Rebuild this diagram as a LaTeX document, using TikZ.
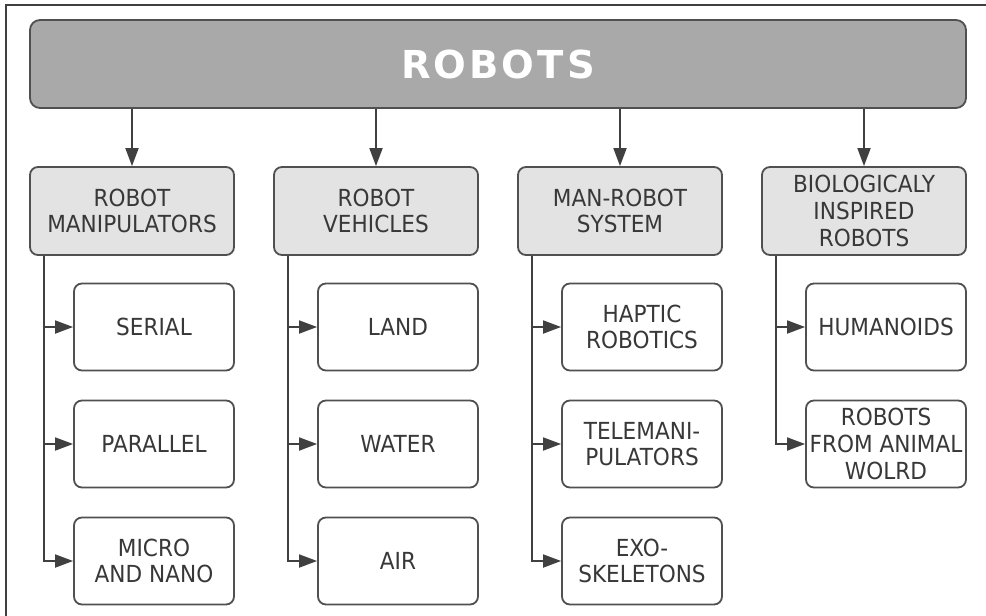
\documentclass[tikz,border=0pt]{standalone}
\usepackage{fontspec}
\setmainfont{DejaVu Sans}[FakeStretch=0.92]
\newfontfamily\titlefont{DejaVu Sans}[LetterSpace=8]
\usetikzlibrary{arrows.meta}
\definecolor{bannerfill}{HTML}{A9A9A9}
\definecolor{catfill}{HTML}{E3E3E3}
\definecolor{edgecol}{HTML}{505050}
\definecolor{linecol}{HTML}{404040}
\definecolor{textcol}{HTML}{383838}
\tikzset{
  banner/.style={draw=edgecol, line width=1.8pt, fill=bannerfill, rounded corners=10pt,
    minimum width=936pt, minimum height=88pt, inner sep=0pt, text=white,
    font=\titlefont\bfseries\fontsize{38.5}{40}\selectfont},
  catbox/.style={draw=edgecol, line width=1.8pt, fill=catfill, rounded corners=8pt,
    minimum width=204pt, minimum height=88pt, inner sep=0pt, align=center, text=textcol,
    font=\fontsize{23.5}{26.7}\selectfont},
  leafbox/.style={draw=edgecol, line width=1.8pt, fill=white, rounded corners=8pt,
    minimum width=160pt, minimum height=87pt, inner sep=0pt, align=center, text=textcol,
    font=\fontsize{23.5}{26.7}\selectfont},
  conn/.style={draw=linecol, line width=1.8pt, -{Triangle[length=18pt,width=13pt]}},
  frame/.style={draw=linecol, line width=1.2pt}
}
\begin{document}
\begin{tikzpicture}[x=1pt,y=-1pt]
\useasboundingbox (0,0) rectangle (986,616);
\draw[frame] (986,5) -- (6,5) -- (6,616);

\node[banner] (top) at (498,64) {ROBOTS};

\node[catbox] (c1) at (132,211) {ROBOT\\MANIPULATORS};
\node[catbox] (c2) at (376,211) {ROBOT\\VEHICLES};
\node[catbox] (c3) at (620,211) {MAN-ROBOT\\SYSTEM};
\node[catbox] (c4) at (864,211) {BIOLOGICALY\\INSPIRED\\ROBOTS};

\foreach \c in {c1,c2,c3,c4}{
  \draw[conn] (\c.north |- top.south) -- (\c.north);
}

\node[leafbox] (a1) at (154,327) {SERIAL};
\node[leafbox] (a2) at (154,444) {PARALLEL};
\node[leafbox] (a3) at (154,561) {MICRO\\AND NANO};

\node[leafbox] (b1) at (398,327) {LAND};
\node[leafbox] (b2) at (398,444) {WATER};
\node[leafbox] (b3) at (398,561) {AIR};

\node[leafbox] (d1) at (642,327) {HAPTIC\\ROBOTICS};
\node[leafbox] (d2) at (642,444) {TELEMANI-\\PULATORS};
\node[leafbox] (d3) at (642,561) {EXO-\\SKELETONS};

\node[leafbox] (e1) at (886,327) {HUMANOIDS};
\node[leafbox] (e2) at (886,444) {ROBOTS\\FROM ANIMAL\\WOLRD};

\foreach \p/\k in {c1/a1,c1/a2,c1/a3,c2/b1,c2/b2,c2/b3,c3/d1,c3/d2,c3/d3,c4/e1,c4/e2}{
  \draw[conn] ([xshift=15pt]\p.south west) |- (\k.west);
}
\end{tikzpicture}
\end{document}
